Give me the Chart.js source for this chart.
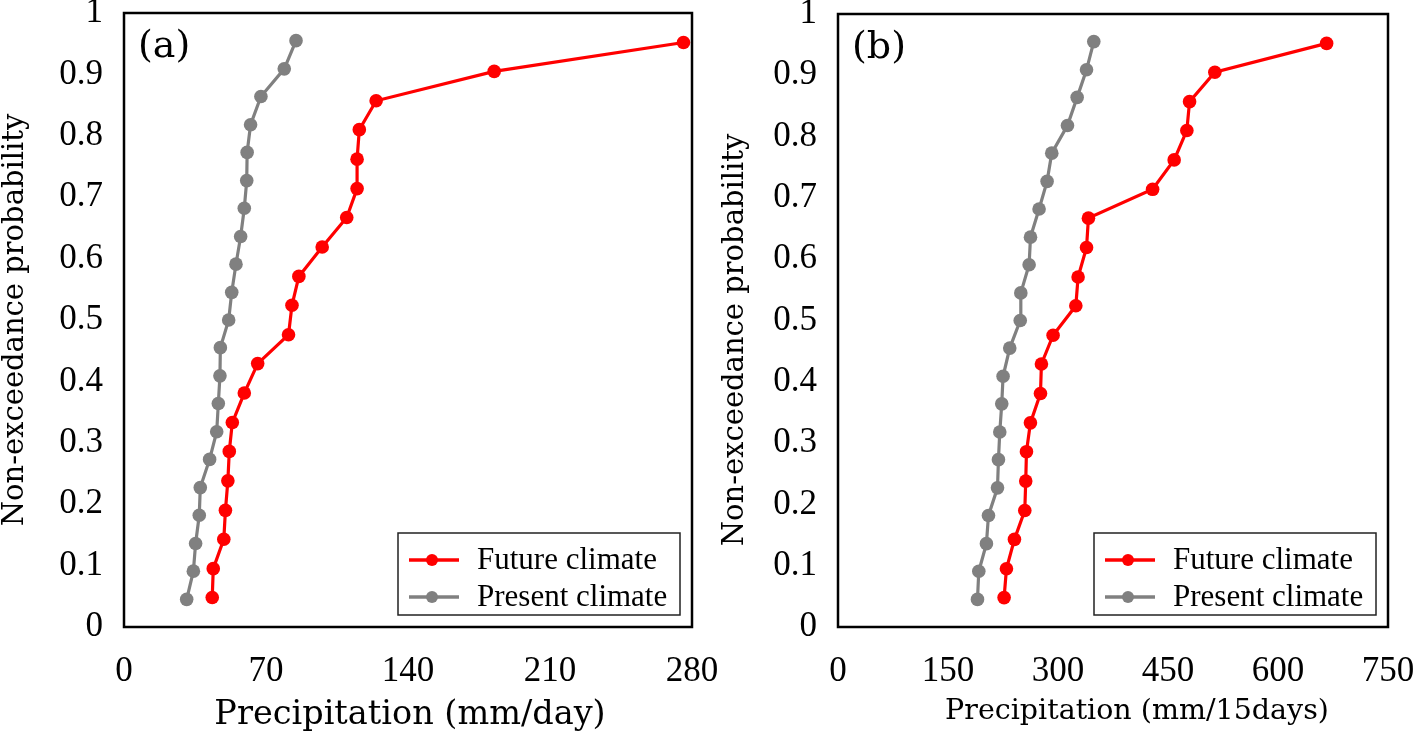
<html>

<head>
    <script src="https://cdn.jsdelivr.net/npm/chart.js@4.4.1/dist/chart.umd.min.js"></script>
    <style>
        body { margin: 0; background: #fff; }
        .panel { position: absolute; top: 0; }
    </style>
</head>

<body>
    <canvas class="panel" id="chartA" width="740" height="734" style="left:0px"></canvas>
    <canvas class="panel" id="chartB" width="709" height="734" style="left:709px"></canvas>
</body>

<script>
    // non-exceedance probabilities (plotting positions)
    var probA = [0.048, 0.095, 0.143, 0.190, 0.238, 0.286, 0.333, 0.381, 0.429, 0.476,
                 0.524, 0.571, 0.619, 0.667, 0.714, 0.762, 0.810, 0.857, 0.905, 0.952];
    var probB = [0.045, 0.091, 0.136, 0.182, 0.227, 0.273, 0.318, 0.364, 0.409, 0.455, 0.500,
                 0.545, 0.591, 0.636, 0.682, 0.727, 0.773, 0.818, 0.864, 0.909, 0.955];

    // (a) daily precipitation, mm/day
    var futureDaily = [43.5, 44.0, 49.2, 50.0, 51.2, 51.9, 53.4, 59.3, 65.9, 81.1,
                       82.8, 86.2, 97.7, 109.8, 114.9, 114.9, 116.0, 124.3, 182.5, 275.8];
    var presentDaily = [30.9, 34.2, 35.3, 37.1, 37.6, 42.2, 45.7, 46.5, 47.3, 47.5, 51.6,
                        53.1, 55.2, 57.5, 59.3, 60.5, 60.7, 62.4, 67.5, 79.0, 84.8];

    // (b) 15-day precipitation, mm/15days
    var future15 = [226.5, 229.7, 240.6, 254.7, 256.0, 257.0, 262.4, 276.1, 277.4, 293.3,
                    324.3, 327.4, 338.9, 341.5, 429.0, 458.4, 475.7, 479.4, 513.9, 666.3];
    var present15 = [190.2, 192.0, 202.4, 205.2, 217.5, 218.8, 220.6, 223.3, 225.1, 234.2, 248.5,
                     249.3, 260.6, 262.5, 274.2, 285.1, 291.5, 312.9, 326.1, 338.9, 348.8];

    var seriesNames = ['Future climate', 'Present climate'];
    var seriesColors = ['#ff0000', '#808080'];

    var ticksA = { max: 280, step: 70 };
    var ticksB = { max: 750, step: 150 };

    function toPoints(xs, ps) {
        return xs.map(function(v, i) { return { x: v, y: ps[i] }; });
    }

    // frame, panel letter, axis titles and legend box
    var framePlugin = {
        id: 'frame',
        afterDraw: function(chart, args, o) {
            var ctx = chart.ctx;
            var a = chart.chartArea;
            ctx.save();
            ctx.strokeStyle = '#000';
            ctx.lineWidth = 2.5;
            ctx.strokeRect(a.left, a.top, a.right - a.left, a.bottom - a.top);

            ctx.fillStyle = '#000';
            ctx.textAlign = 'left';
            ctx.textBaseline = 'middle';
            ctx.font = '38px "DejaVu Serif"';
            ctx.fillText(o.label, a.left + 14, a.top + 34);

            ctx.textAlign = 'center';
            ctx.font = o.xFont;
            ctx.fillText(o.xTitle, o.xTitleX, o.xTitleY);

            ctx.save();
            ctx.translate(o.yTitleX, o.yTitleY);
            ctx.rotate(-Math.PI / 2);
            ctx.font = '29px "DejaVu Serif"';
            ctx.fillText('Non-exceedance probability', 0, 0);
            ctx.restore();

            // legend
            var w = 282, h = 82;
            var bx = a.right - 12 - w, by = a.bottom - 12 - h;
            ctx.lineWidth = 1.5;
            ctx.strokeStyle = '#222';
            ctx.strokeRect(bx, by, w, h);
            ctx.textAlign = 'left';
            ctx.font = '31px "Liberation Serif"';
            chart.data.datasets.forEach(function(ds, i) {
                var y = by + 27 + i * 37;
                ctx.strokeStyle = ds.borderColor;
                ctx.fillStyle = ds.borderColor;
                ctx.lineWidth = 3.5;
                ctx.beginPath();
                ctx.moveTo(bx + 11, y);
                ctx.lineTo(bx + 61, y);
                ctx.stroke();
                ctx.beginPath();
                ctx.arc(bx + 34, y, 6, 0, Math.PI * 2);
                ctx.fill();
                ctx.fillStyle = '#000';
                ctx.fillText(ds.label, bx + 79, y + 1);
            });
            ctx.restore();
        }
    };

    function noPad(s) {
        s.paddingTop = 0;
        s.paddingBottom = 0;
        s.paddingLeft = 0;
        s.paddingRight = 0;
    }

    function makePanel(id, future, present, probs, ticks, yWidth, pad, frame) {
        var datasets = [future, present].map(function(xs, i) {
            return {
                label: seriesNames[i],
                data: toPoints(xs, probs[i]),
                showLine: true,
                borderColor: seriesColors[i],
                backgroundColor: seriesColors[i],
                borderWidth: 3.2,
                pointRadius: 6.8,
                pointBorderWidth: 0,
                pointHoverRadius: 6.8
            };
        });
        return new Chart(document.getElementById(id), {
            type: 'scatter',
            data: { datasets: datasets },
            plugins: [framePlugin],
            options: {
                responsive: false,
                animation: false,
                layout: { padding: pad },
                plugins: {
                    legend: { display: false },
                    tooltip: { enabled: false },
                    frame: frame
                },
                scales: {
                    x: {
                        type: 'linear',
                        min: 0,
                        max: ticks.max,
                        grid: { display: false, drawTicks: false },
                        border: { display: false },
                        ticks: {
                            stepSize: ticks.step,
                            color: '#000',
                            padding: 24,
                            maxRotation: 0,
                            font: { family: 'Liberation Serif', size: 35 }
                        },
                        afterFit: function(s) { s.height = 107; noPad(s); }
                    },
                    y: {
                        min: 0,
                        max: 1,
                        grid: { display: false, drawTicks: false },
                        border: { display: false },
                        ticks: {
                            stepSize: 0.1,
                            color: '#000',
                            padding: 21,
                            font: { family: 'Liberation Serif', size: 35, lineHeight: 1 },
                            callback: function(v) { return String(Math.round(v * 10) / 10); }
                        },
                        afterFit: function(s) { s.width = yWidth; noPad(s); }
                    }
                }
            }
        });
    }

    makePanel('chartA', futureDaily, presentDaily, [probA, probB], ticksA, 124,
        { top: 13, right: 48, left: 0, bottom: 0 },
        { label: '(a)', xTitle: 'Precipitation (mm/day)', xFont: '33.5px "DejaVu Serif"',
          xTitleX: 410, xTitleY: 715, yTitleX: 15, yTitleY: 320 });

    makePanel('chartB', future15, present15, [probA, probB], ticksB, 129,
        { top: 14, right: 30, left: 0, bottom: 0 },
        { label: '(b)', xTitle: 'Precipitation (mm/15days)', xFont: '28.5px "DejaVu Serif"',
          xTitleX: 428, xTitleY: 712, yTitleX: 26, yTitleY: 340 });
</script>

</html>
